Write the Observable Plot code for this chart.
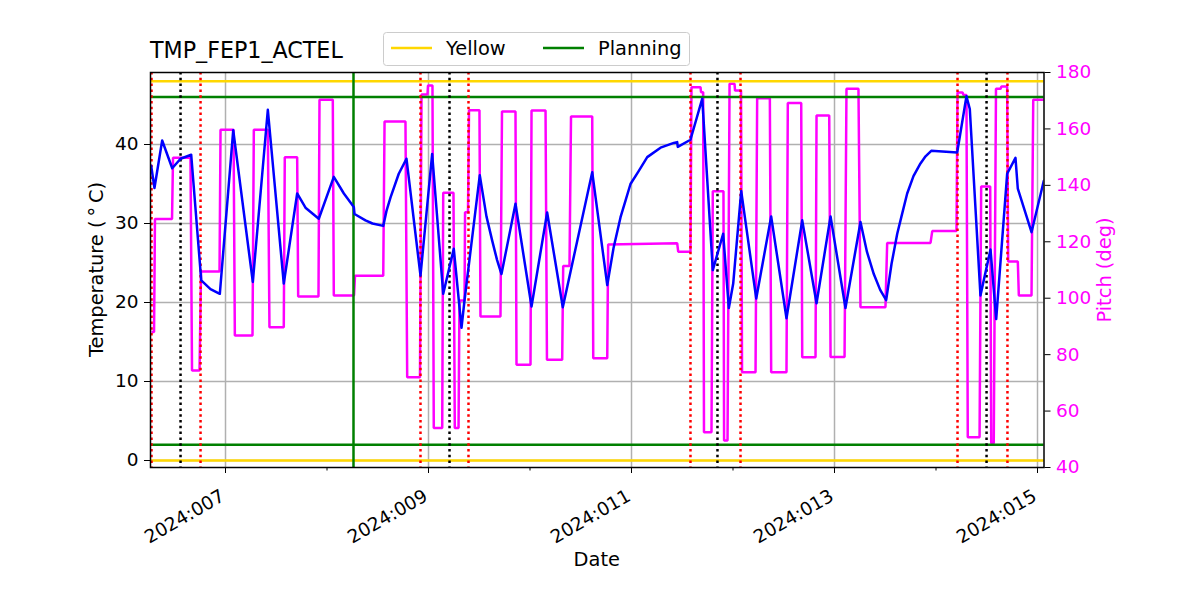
<!DOCTYPE html>
<html><head><meta charset="utf-8">
<script src="https://cdn.jsdelivr.net/npm/d3@7"></script>
<script src="https://cdn.jsdelivr.net/npm/@observablehq/plot@0.6"></script>
<style>
body{margin:0;background:#fff;font-family:"DejaVu Sans",sans-serif;}
#wrap{width:1200px;height:600px;}
</style></head><body><div id="wrap"></div>
<script>
// ---- data (day-of-year 2024, fractional) ----
const tempDoy = [6.268,6.300,6.376,6.475,6.557,6.662,6.761,6.852,6.944,7.076,7.269,7.417,7.574,7.706,7.788,7.919,
  8.067,8.166,8.264,8.271,8.379,8.448,8.554,8.586,8.626,8.707,8.783,8.921,9.036,9.145,9.249,9.325,9.355,9.505,9.571,9.628,9.675,9.719,9.857,
  10.015,10.169,10.323,10.613,10.761,10.823,10.892,10.941,10.990,11.069,11.155,11.286,11.417,11.450,11.456,11.581,11.697,11.801,11.903,11.959,12.002,
  12.081,12.229,12.376,12.527,12.682,12.823,12.961,13.108,13.256,13.320,13.387,13.450,13.509,13.562,13.618,13.660,13.716,13.778,13.847,13.897,13.953,14.209,14.300,14.333,
  14.438,14.537,14.593,14.701,14.783,14.806,14.941,15.062];
const tempValues = [37.3,34.5,40.5,37.0,38.2,38.7,22.8,21.7,21.1,41.8,22.6,44.4,22.4,33.8,32.0,30.6,
  35.9,33.8,32.1,31.2,30.4,30.0,29.7,31.6,33.3,36.3,38.2,23.4,38.8,21.1,26.8,16.8,20.3,36.1,30.9,27.8,25.4,23.6,32.5,
  19.5,31.4,19.4,36.5,22.2,26.9,30.8,32.9,35.0,36.6,38.4,39.6,40.2,40.3,39.7,40.6,45.8,24.1,28.7,19.3,22.4,
  34.1,20.5,30.9,18.0,30.4,19.9,30.9,19.3,30.2,26.4,23.6,21.6,20.3,24.9,28.7,30.9,33.8,36.0,37.6,38.5,39.2,39.0,46.1,44.5,
  20.9,26.7,17.9,36.3,38.3,34.4,28.9,35.4];

const pitchDoy = [6.271,6.296,6.305,6.473,6.483,6.655,6.670,6.744,6.759,6.941,6.951,7.079,7.092,7.266,7.279,7.417,
  7.433,7.574,7.584,7.706,7.716,7.916,7.926,8.057,8.067,8.266,8.276,8.554,8.567,8.773,8.790,8.916,8.931,8.990,8.995,9.039,
  9.052,9.135,9.145,9.246,9.259,9.296,9.305,9.355,9.360,9.389,9.399,9.502,9.512,9.709,9.724,9.857,9.867,10.005,10.015,10.153,
  10.167,10.317,10.327,10.389,10.404,10.613,10.623,10.761,10.770,11.450,11.460,11.581,11.591,11.680,11.685,11.706,11.714,11.788,
  11.801,11.906,11.912,11.946,11.966,12.015,12.020,12.079,12.089,12.222,12.238,12.363,12.376,12.527,12.540,12.672,12.682,12.813,
  12.823,12.948,12.961,13.099,13.118,13.236,13.256,13.502,13.519,13.946,13.963,14.202,14.212,14.261,14.271,14.300,14.313,14.429,
  14.445,14.534,14.544,14.569,14.591,14.635,14.645,14.701,14.711,14.806,14.816,14.941,14.958,15.069];
const pitchValues = [88,88,128.1,128.1,149.8,149.8,74.4,74.4,109.5,109.5,159.7,159.7,86.8,86.8,159.7,159.7,
  89.7,89.7,150.0,150.0,100.6,100.6,170.3,170.3,101.0,101.0,108.0,108.0,162.6,162.6,72.0,72.0,172.2,172.2,175.4,175.4,
  54.0,54.0,137.4,137.4,54.0,54.0,99.2,99.2,130.5,130.5,166.6,166.6,93.5,93.5,166.2,166.2,76.4,76.4,166.5,166.5,
  78.2,78.2,111.4,111.4,164.4,164.4,78.7,78.7,119.0,119.5,116.5,116.5,174.8,174.8,173.0,173.0,52.5,52.5,
  137.9,137.9,49.6,49.6,176.0,176.0,173.6,173.6,73.8,73.8,170.9,170.9,73.8,73.8,169.2,169.2,79.1,79.1,
  164.8,164.8,79.2,79.2,174.2,174.2,96.8,96.8,119.6,119.6,123.8,123.8,172.9,172.9,172.0,172.0,50.7,50.7,
  139.6,139.6,48.6,48.6,174.2,174.2,175.0,175.0,113.0,113.0,101.0,101.0,170.3,170.3];

const redLineDoy = [6.271,6.754,8.921,9.394,11.581,12.074,14.212,14.704];
const blackLineDoy = [6.557,9.207,11.847,14.498];
const greenLineDoy = [8.261];
const yellowLimits = [0,48];
const planningLimits = [2,46];
const majorTickDoy = [7,9,11,13,15];
const minorTickDoy = [8,10,12,14];
const tempTicks = [0,10,20,30,40];
const pitchTicks = [40,60,80,100,120,140,160,180];
const xDomainDoy = [6.261,15.064];
const tempDomain = [-0.886,49.114];
const pitchDomain = [40,180];
const legendItems = [{label:"Yellow", color:"#ffd700"},{label:"Planning", color:"green"}];

// ---- helpers ----
const toDate = d => new Date(Date.UTC(2024,0,1) + (d-1)*864e5);
const p2t = p => tempDomain[0] + (p - pitchDomain[0])/(pitchDomain[1]-pitchDomain[0])*(tempDomain[1]-tempDomain[0]);
const t2p = t => pitchDomain[0] + (t - tempDomain[0])/(tempDomain[1]-tempDomain[0])*(pitchDomain[1]-pitchDomain[0]);

const tempData = tempDoy.map((d,i)=>({date:toDate(d), v:tempValues[i]}));
const pitchData = pitchDoy.map((d,i)=>({date:toDate(d), v:p2t(pitchValues[i])}));
const majorDates = majorTickDoy.map(toDate);

const FS = 18.5;   // tick labels
const LFS = 19.4;  // axis labels, legend
const dots = "2.5,3.3";
const LW = 2.5;
const chart = Plot.plot({
  width:1200, height:600,
  marginLeft:150, marginRight:156.5, marginTop:72, marginBottom:133,
  style:{fontFamily:"DejaVu Sans, sans-serif", fontSize:FS+"px", color:"black", background:"white"},
  x:{type:"utc", domain:xDomainDoy.map(toDate)},
  y:{domain:tempDomain},
  marks:[
    Plot.gridY(tempTicks,{stroke:"#b0b0b0", strokeOpacity:1, strokeWidth:1.5}),
    Plot.gridX(majorDates,{stroke:"#b0b0b0", strokeOpacity:1, strokeWidth:1.5}),
    Plot.line(pitchData,{x:"date", y:"v", stroke:"#ff00ff", strokeWidth:LW, clip:true, strokeLinejoin:"miter", strokeLinecap:"butt"}),
    Plot.ruleY(yellowLimits,{stroke:"#ffd700", strokeWidth:LW}),
    Plot.ruleY(planningLimits,{stroke:"green", strokeWidth:LW}),
    Plot.ruleX(redLineDoy.map(toDate),{stroke:"red", strokeWidth:LW, strokeDasharray:dots}),
    Plot.ruleX(blackLineDoy.map(toDate),{stroke:"black", strokeWidth:LW, strokeDasharray:dots}),
    Plot.ruleX(greenLineDoy.map(toDate),{stroke:"green", strokeWidth:LW}),
    Plot.line(tempData,{x:"date", y:"v", stroke:"blue", strokeWidth:LW, clip:true}),
    Plot.frame({stroke:"black", strokeWidth:1.5}),
    Plot.axisX(majorDates,{tickFormat:()=>"", tickSize:6, label:null}),
    Plot.axisX(minorTickDoy.map(toDate),{tickFormat:()=>"", tickSize:3.5, label:null}),
    Plot.text(majorDates,{x:d=>d, frameAnchor:"bottom", dx:-2.5, dy:27, rotate:-30, textAnchor:"end", lineAnchor:"middle",
      text:d3.utcFormat("%Y:%j"), fontSize:FS, fill:"black"}),
    Plot.axisY(tempTicks,{anchor:"left", tickSize:6, tickPadding:6, fontSize:FS, label:null}),
    Plot.axisY(pitchTicks.map(p2t),{anchor:"right", tickSize:6, tickFormat:()=>"", label:null}),
    Plot.axisY(pitchTicks.map(p2t),{anchor:"right", tickSize:0, tickPadding:12, fontSize:FS, color:"#ff00ff", label:null, tickFormat:t=>String(Math.round(t2p(t)))})
  ]
});
document.getElementById("wrap").appendChild(chart);

// ---- title, legend, axis labels ----
const svg = d3.select(chart);
const g = svg.append("g").attr("font-family","DejaVu Sans, sans-serif").attr("text-anchor","start");
g.append("text").attr("x",150).attr("y",58).attr("font-size",22.2).attr("fill","black").text("TMP_FEP1_ACTEL");
g.append("text").attr("transform","translate(102.5,269.5) rotate(-90)").attr("text-anchor","middle")
  .attr("font-size",LFS).attr("fill","black").text("Temperature (\u2009\u00b0\u2009C)");
g.append("text").attr("transform","translate(1111,270) rotate(-90)").attr("text-anchor","middle")
  .attr("font-size",LFS).attr("fill","#ff00ff").text("Pitch (deg)");
g.append("text").attr("x",596.75).attr("y",566).attr("text-anchor","middle")
  .attr("font-size",LFS).attr("fill","black").text("Date");

const lg = g.append("g");
lg.append("rect").attr("x",383.5).attr("y",32.5).attr("width",306).attr("height",33).attr("rx",3)
  .attr("fill","white").attr("stroke","#cccccc");
legendItems.forEach((it,i)=>{
  const x0 = 391 + i*152;
  lg.append("line").attr("x1",x0).attr("x2",x0+41).attr("y1",48).attr("y2",48).attr("stroke",it.color).attr("stroke-width",LW);
  lg.append("text").attr("x",x0+55).attr("y",54.5).attr("text-anchor","start").attr("font-size",LFS).attr("fill","black").text(it.label);
});
</script>
</body></html>
